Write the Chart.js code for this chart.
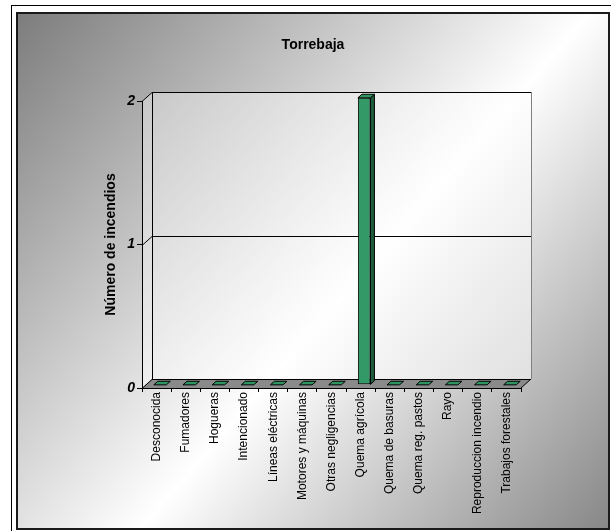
<!DOCTYPE html>
<html><head><meta charset="utf-8">
<script src="https://cdn.jsdelivr.net/npm/chart.js@4"></script>
<style>html,body{margin:0;padding:0;background:#fff;}canvas{display:block;}</style>
</head><body>
<canvas id="c" width="611" height="531"></canvas>
<script>
const categories = ["Desconocida","Fumadores","Hogueras","Intencionado","Líneas eléctricas","Motores y máquinas","Otras negligencias","Quema agrícola","Quema de basuras","Quema reg. pastos","Rayo","Reproduccion incendio","Trabajos forestales"];
const incendios = [0,0,0,0,0,0,0,2,0,0,0,0,0];
const yTicks = [0,1,2];
const chartTitle = "Torrebaja";
const yTitle = "Número de incendios";

const DEPTH = {dx: 10, dy: -9};
const BAR_FRONT = 0.35, BAR_BACK = 0.75;

function poly(ctx, pts, fill, stroke) {
  ctx.beginPath();
  ctx.moveTo(pts[0][0], pts[0][1]);
  for (let i = 1; i < pts.length; i++) ctx.lineTo(pts[i][0], pts[i][1]);
  ctx.closePath();
  if (fill) { ctx.fillStyle = fill; ctx.fill(); }
  if (stroke) { ctx.strokeStyle = stroke; ctx.lineWidth = 1; ctx.stroke(); }
}
function line(ctx, pts, color) {
  ctx.beginPath();
  ctx.moveTo(pts[0][0], pts[0][1]);
  for (let i = 1; i < pts.length; i++) ctx.lineTo(pts[i][0], pts[i][1]);
  ctx.strokeStyle = color; ctx.lineWidth = 1; ctx.stroke();
}

const threeD = {
  id: 'threeD',
  beforeDraw(chart) {
    const ctx = chart.ctx, a = chart.chartArea, ys = chart.scales.y;
    const dx = DEPTH.dx, dy = DEPTH.dy;
    ctx.save();
    ctx.fillStyle = '#fff'; ctx.fillRect(0, 0, chart.width, chart.height);
    ctx.strokeStyle = '#000'; ctx.lineWidth = 1;
    ctx.strokeRect(11.5, 5.5, 700, 700);
    const g = ctx.createLinearGradient(17, 13, 609, 529);
    g.addColorStop(0, '#7c7c7c');
    g.addColorStop(0.55, '#ffffff');
    g.addColorStop(1, '#878787');
    ctx.fillStyle = g; ctx.fillRect(17, 13, 592, 516);
    ctx.strokeStyle = '#1a1a1a'; ctx.lineWidth = 2; ctx.strokeRect(17, 13, 592, 516);

    const L = a.left, R = a.right, T = a.top, B = a.bottom;
    const wg = ctx.createLinearGradient(L, T, R, B);
    wg.addColorStop(0, 'rgba(255,255,255,0.35)');
    wg.addColorStop(1, 'rgba(255,255,255,0.55)');
    poly(ctx, [[L+dx, T+dy], [R+dx, T+dy], [R+dx, B+dy], [L+dx, B+dy]], wg);
    poly(ctx, [[L, T], [L+dx, T+dy], [L+dx, B+dy], [L, B]], wg);
    poly(ctx, [[L, B], [L+dx, B+dy], [R+dx, B+dy], [R, B]], '#8a8a8a');
    line(ctx, [[R+dx+0.5, T+dy], [R+dx+0.5, B+dy]], '#808080');
    line(ctx, [[L+dx+0.5, T+dy], [L+dx+0.5, B+dy]], '#000');
    yTicks.forEach(v => {
      const y = Math.round(ys.getPixelForValue(v)) + 0.5;
      line(ctx, [[L, y], [L+dx, y+dy], [R+dx, y+dy]], '#000');
    });
    line(ctx, [[R, B], [R+dx, B+dy]], '#000');
    ctx.restore();
  },
  beforeDatasetsDraw(chart) {
    chart.ctx.save();
    chart.ctx.translate(DEPTH.dx*BAR_FRONT, DEPTH.dy*BAR_FRONT);
  },
  afterDatasetsDraw(chart) {
    const ctx = chart.ctx;
    ctx.restore();
    const f = [DEPTH.dx*BAR_FRONT, DEPTH.dy*BAR_FRONT];
    const b = [DEPTH.dx*BAR_BACK, DEPTH.dy*BAR_BACK];
    ctx.save();
    chart.getDatasetMeta(0).data.forEach(el => {
      const x0 = el.x - el.width/2, x1 = el.x + el.width/2, y = el.y, base = el.base;
      if (base - y > 0.5) {
        poly(ctx, [[x1+f[0], y+f[1]], [x1+b[0], y+b[1]], [x1+b[0], base+b[1]], [x1+f[0], base+f[1]]], '#1c5e3c', '#000');
      }
      poly(ctx, [[x0+f[0], y+f[1]], [x1+f[0], y+f[1]], [x1+b[0], y+b[1]], [x0+b[0], y+b[1]]], '#2f9560', '#000');
    });
    ctx.restore();
  }
};

Chart.defaults.font.family = "'Liberation Sans', Arial, sans-serif";
Chart.defaults.color = '#000';

new Chart(document.getElementById('c'), {
  type: 'bar',
  data: {
    labels: categories,
    datasets: [{
      data: incendios,
      backgroundColor: '#339966',
      borderColor: '#000',
      borderWidth: 1,
      borderSkipped: false,
      categoryPercentage: 1,
      barPercentage: 0.43,
      clip: false
    }]
  },
  options: {
    responsive: false,
    animation: false,
    devicePixelRatio: 1,
    layout: {padding: {left: 15, right: 0, top: 0, bottom: 0}},
    plugins: {
      legend: {display: false},
      tooltip: {enabled: false},
      title: {
        display: true, text: chartTitle, color: '#000',
        font: {size: 14, weight: 'bold'},
        padding: {top: 37, bottom: 47.2}
      }
    },
    scales: {
      x: {
        afterFit(s) { s.height = 143; },
        grid: {drawOnChartArea: false, drawTicks: true, tickLength: 4, color: '#000', offset: true},
        border: {display: true, color: '#000'},
        ticks: {autoSkip: false, minRotation: 90, maxRotation: 90, padding: 0, font: {size: 12}, color: '#000'}
      },
      y: {
        min: 0, max: 2,
        afterFit(s) { s.width = 127; },
        afterBuildTicks(s) { s.ticks = yTicks.map(v => ({value: v})); },
        grid: {drawOnChartArea: false, drawTicks: true, tickLength: 5, color: '#000'},
        border: {display: true, color: '#000'},
        ticks: {padding: 2, font: {size: 14, weight: 'bold', style: 'italic'}, color: '#000'},
        title: {display: true, text: yTitle, color: '#000', font: {size: 14, weight: 'bold'}, padding: {top: 87.6, bottom: 0}}
      },
      yRight: {
        type: 'linear', position: 'right', display: true,
        afterFit(s) { s.width = 90; },
        grid: {display: false, drawTicks: false},
        border: {display: false},
        ticks: {display: false}
      }
    }
  },
  plugins: [threeD]
});
</script>
</body></html>
